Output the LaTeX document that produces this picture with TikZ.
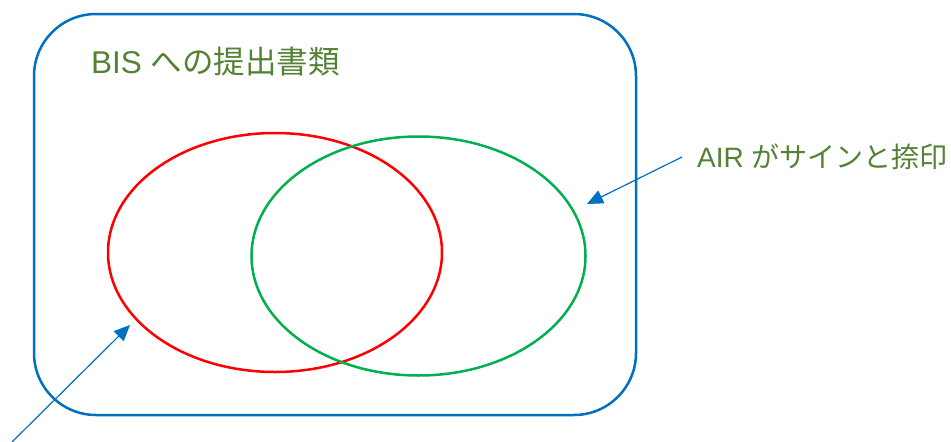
\documentclass[tikz,border=0pt]{standalone}
\usepackage{fontspec}
\setmainfont{Liberation Sans}
\newfontfamily\jpfont{Noto Sans CJK JP}
\usetikzlibrary{arrows.meta,shapes.geometric}
\definecolor{VBlue}{HTML}{0070C0}
\definecolor{VRed}{HTML}{FF0000}
\definecolor{VGreen}{HTML}{00B050}
\definecolor{VText}{HTML}{548235}
\tikzset{
  frame/.style={draw=VBlue,line width=2.5pt,rounded corners=62pt},
  set/.style={ellipse,line width=2.5pt,inner sep=0pt,outer sep=0pt,
              minimum width=334pt,minimum height=239pt},
  setred/.style={set,draw=VRed},
  setgreen/.style={set,draw=VGreen},
  pointer/.style={-{Triangle[length=16pt,width=14pt]},VBlue,line width=1.2pt},
  title/.style={text=VText,font=\fontsize{31.5}{37}\selectfont,anchor=west,inner sep=0pt},
  note/.style={text=VText,font=\fontsize{28}{33}\selectfont,anchor=west,inner xsep=15pt,inner ysep=0pt},
}
\begin{document}
\begin{tikzpicture}[x=1pt,y=-1pt]
  \useasboundingbox (0,0) rectangle (951,442);
  \draw[frame] (34,14) rectangle (636,415);
  \node[title] (bis) at (91,62) {BIS {\jpfont への提出書類}};

  \node[setred] (red) at (275,252.5) {};
  \node[setgreen] (green) at (418.5,256) {};

  \node[note] (air) at (682,157) {AIR {\jpfont がサインと捺印}};
  \coordinate (airtip) at (587,204);
  \draw[pointer] (air.west) -- (airtip);

  \coordinate (low) at (12,442);
  \coordinate (lowtip) at (130,325);
  \draw[pointer] (low) -- (lowtip);
\end{tikzpicture}
\end{document}
